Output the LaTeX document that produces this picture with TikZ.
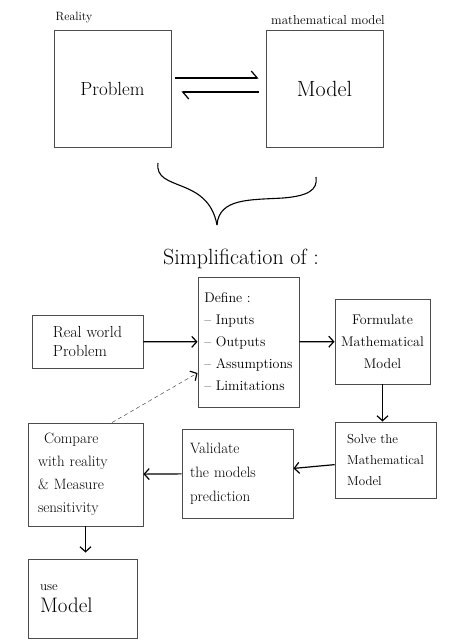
\documentclass[tikz,border=0pt]{standalone}
\usetikzlibrary{arrows.meta}
\newcommand\fsz[2]{\fontsize{#1}{#2}\selectfont}
\begin{document}
\begin{tikzpicture}[x=1pt,y=-1pt,
  box/.style={draw=black!70,line width=0.9pt,inner sep=2pt,align=left,anchor=center},
  arr/.style={line width=1.2pt,-{Straight Barb[length=5pt,width=11pt,line width=1.2pt]}},
  harp/.style={line width=1.2pt,-{Straight Barb[length=6pt,width=14pt,line width=1.2pt,harpoon]}},
  lbl/.style={inner sep=0pt}]
\useasboundingbox[fill=white] (0,0) rectangle (463,643);
% top
\node[box,minimum width=117pt,minimum height=117pt,font=\fsz{19}{22}] (prob) at (112.5,88.5) {Problem};
\node[box,minimum width=117pt,minimum height=117pt,font=\fsz{22}{26}] (model) at (324.5,88.5) {Model};
\node[lbl,font=\fsz{12}{14}] (lreal) at (74,18) {Reality};
\node[lbl,font=\fsz{13}{15}] (lmath) at (328,20) {mathematical model};
\draw[harp,shorten <=4pt,shorten >=7pt] ([yshift=10.5pt]prob.east) -- ([yshift=10.5pt]model.west);
\draw[harp,shorten <=7pt,shorten >=10pt] ([yshift=-3.5pt]model.west) -- ([yshift=-3.5pt]prob.east);
% brace
\draw[line width=1.1pt] (158,163) .. controls (154,192) and (208,176) .. (217,225);
\draw[line width=1.1pt] (217,225) .. controls (219,198) and (250,200) .. (283,198) .. controls (308,196) and (318,190) .. (316,177);
\node[lbl,font=\fsz{22}{26}] (simp) at (241,259) {Simplification of :};
% flow
\node[box,minimum width=111pt,minimum height=53pt,font=\fsz{16}{19}] (real) at (87.5,341.5) {Real world\\Problem};
\node[box,minimum width=101pt,minimum height=130pt,font=\fsz{14}{22}] (define) at (248.5,342) {Define :\\-- Inputs\\-- Outputs\\-- Assumptions\\-- Limitations};
\node[box,minimum width=95pt,minimum height=85pt,font=\fsz{14}{22},align=center] (form) at (382.5,341.5) {Formulate\\Mathematical\\Model};
\node[box,minimum width=101pt,minimum height=76pt,font=\fsz{13}{21}] (solve) at (385.5,460) {Solve the\\Mathematical\\Model};
\node[box,minimum width=111pt,minimum height=89pt,font=\fsz{15}{24},text width=95pt] (valid) at (237.5,473.5) {Validate\\the models\\prediction};
\node[box,minimum width=115pt,minimum height=103pt,font=\fsz{15}{23},text width=95pt] (comp) at (85.5,474.5) {\hspace*{6pt}Compare\\with reality\\\& Measure\\sensitivity};
\node[box,minimum width=109pt,minimum height=79pt,font=\fsz{13}{22},text width=85pt] (use) at (82.5,598.5) {use\\{\fsz{21}{24}Model}};
\draw[arr] (real) -- (define);
\draw[arr] (define) -- (form);
\draw[arr] (form.south) -- (form.south |- solve.north);
\draw[arr] (solve) -- (valid);
\draw[arr] (valid) -- (comp);
\draw[arr,shorten >=6pt] (comp.south) -- (comp.south |- use.north);
\draw[line width=0.5pt,black!70,dash pattern=on 4pt off 3pt,-{Straight Barb[length=5pt,width=11pt,line width=1.2pt,black]}] ([xshift=26.5pt]comp.north) -- ([yshift=-31pt]define.west);
\end{tikzpicture}
\end{document}
